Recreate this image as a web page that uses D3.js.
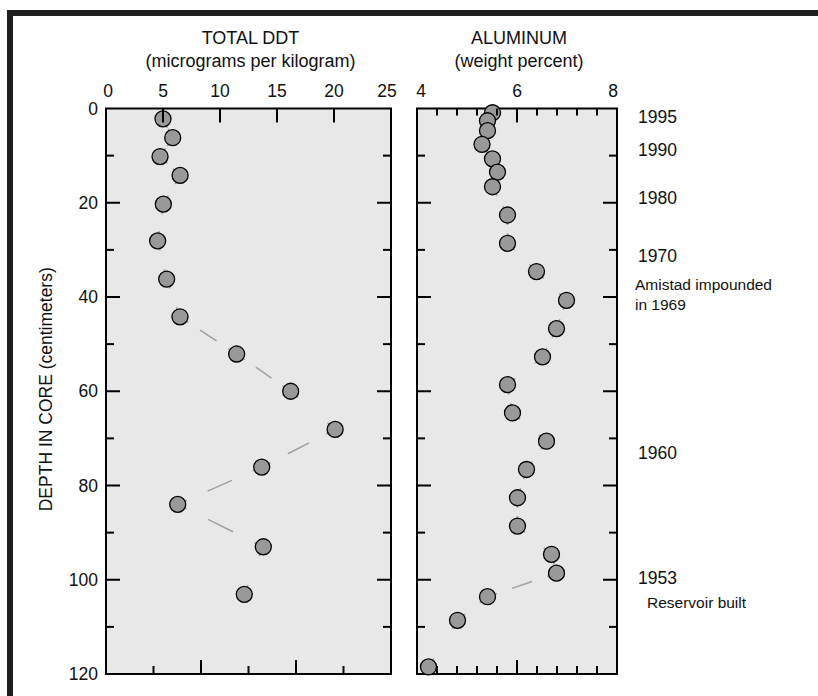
<!DOCTYPE html>
<html>
<head>
<meta charset="utf-8">
<script src="https://cdn.jsdelivr.net/npm/d3@7"></script>
<style>
  html, body { margin: 0; padding: 0; background: #fff; }
  svg { display: block; }
  text { font-family: "Liberation Sans", Arial, sans-serif; fill: #111; }
</style>
</head>
<body>
<svg id="chart" width="818" height="696"></svg>
<script>
// ---- data ----
const ddtDepth = [2.2, 6.2, 10.2, 14.2, 20.3, 28.1, 36.2, 44.2, 52.1, 60.0, 68.1, 76.1, 84.0, 93.0, 103.1];
const ddtValue = [5.0, 5.85, 4.74, 6.5, 5.03, 4.53, 5.32, 6.49, 11.46, 16.2, 20.1, 13.66, 6.29, 13.8, 12.13];

const alDepth = [0.9, 2.6, 4.7, 7.6, 10.7, 13.5, 16.6, 22.6, 28.6, 34.6, 40.7, 46.7, 52.7, 58.6, 64.6, 70.6, 76.6, 82.6, 88.6, 94.6, 98.6, 103.6, 108.6, 118.5];
const alValue = [5.51, 5.41, 5.41, 5.30, 5.51, 5.61, 5.51, 5.81, 5.81, 6.39, 6.99, 6.79, 6.51, 5.81, 5.91, 6.59, 6.19, 6.01, 6.01, 6.69, 6.79, 5.41, 4.81, 4.23];

const depthTicks = [0, 20, 40, 60, 80, 100, 120];
const ddtTicks = [0, 5, 10, 15, 20, 25];
const alTicks = [4, 6, 8];

const yearLabels = ["1995", "1990", "1980", "1970", "1960", "1953"];
const yearDepths = [1.8, 8.8, 19.0, 31.3, 73.1, 99.5];
const noteLabels = ["Amistad impounded", "in 1969", "Reservoir built"];
const noteDepths = [37.3, 41.6, 104.8];

const titles = ["TOTAL DDT", "ALUMINUM"];
const subtitles = ["(micrograms per kilogram)", "(weight percent)"];
const yTitle = "DEPTH IN CORE (centimeters)";

// ---- layout ----
const svg = d3.select("#chart");
const yTop = 108.5, yBot = 674;
const y = d3.scaleLinear().domain([0, 120]).range([yTop, yBot]);
const xD = d3.scaleLinear().domain([0, 25]).range([106, 391]);
const xA = d3.scaleLinear().domain([4, 8]).range([417, 617]);

// outer frame
svg.append("rect").attr("x", 10).attr("y", 13).attr("width", 900).attr("height", 800)
  .attr("fill", "none").attr("stroke", "#1e1e1e").attr("stroke-width", 6);

// dash pattern: short dash at each end (mostly hidden under symbols),
// evenly spaced dashes in between for longer segments
function dashFor(L) {
  const e = 10;
  const n = Math.max(1, Math.round(L / 42));
  if (n === 1) return [e, L - 2 * e, e + 50, 10].map(v => v.toFixed(2)).join(",");
  const p = L / n, d = p * 0.58;
  const arr = [e];
  let pos = e;
  for (let k = 1; k < n; k++) {
    const s = k * p - d / 2;
    arr.push(s - pos, d);
    pos = s + d;
  }
  arr.push(L - e - pos, e + 50);
  return arr.map(v => v.toFixed(2)).join(",");
}

function panel(x, depths, values, topTicks, bottomTicks, title, subtitle) {
  const [x0, x1] = x.range();
  const g = svg.append("g");
  g.append("rect").attr("x", x0).attr("y", yTop).attr("width", x1 - x0).attr("height", yBot - yTop)
    .attr("fill", "#e8e8e8").attr("stroke", "#000").attr("stroke-width", 2);

  const pts = depths.map((d, i) => [x(values[i]), y(d)]);
  for (let i = 0; i < pts.length - 1; i++) {
    const [ax, ay] = pts[i], [bx, by] = pts[i + 1];
    const L = Math.hypot(bx - ax, by - ay);
    g.append("line").attr("x1", ax).attr("y1", ay).attr("x2", bx).attr("y2", by)
      .attr("stroke", "#a0a0a0").attr("stroke-width", 1.5)
      .attr("stroke-dasharray", dashFor(L));
  }
  g.selectAll("circle.pt").data(pts).join("circle").attr("class", "pt")
    .attr("cx", d => d[0]).attr("cy", d => d[1]).attr("r", 8)
    .attr("fill", "#999").attr("stroke", "#000").attr("stroke-width", 1.3);

  // ticks (inward)
  const tk = g.append("g").attr("stroke", "#000").attr("stroke-width", 2);
  d3.range(10, 120, 10).forEach(d => {
    const len = d % 20 === 0 ? 14 : 8;
    tk.append("line").attr("x1", x0).attr("x2", x0 + len).attr("y1", y(d)).attr("y2", y(d));
    tk.append("line").attr("x1", x1).attr("x2", x1 - len).attr("y1", y(d)).attr("y2", y(d));
  });
  topTicks.forEach(t => {
    tk.append("line").attr("x1", x(t.v)).attr("x2", x(t.v)).attr("y1", yTop).attr("y2", yTop + t.len);
  });
  bottomTicks.forEach(t => {
    tk.append("line").attr("x1", t.x).attr("x2", t.x).attr("y1", yBot).attr("y2", yBot - t.len);
  });

  const cx = (x0 + x1) / 2 + 2;
  svg.append("text").attr("x", cx).attr("y", 44).attr("text-anchor", "middle")
    .attr("font-size", 18).text(title);
  svg.append("text").attr("x", cx).attr("y", 67).attr("text-anchor", "middle")
    .attr("font-size", 18).text(subtitle);
}

// DDT panel
const ddtTop = [5, 10, 15, 20].map(v => ({ v, len: 14 }));
const ddtBottom = d3.range(1, 6).map(k => ({ x: xD.range()[0] + k * (xD.range()[1] - xD.range()[0]) / 6, len: k % 2 === 0 ? 14 : 8 }));
panel(xD, ddtDepth, ddtValue, ddtTop, ddtBottom, titles[0], subtitles[0]);

// Aluminum panel
const alMinor = d3.range(1, 10).map(k => 4 + k * 0.4);
const alTop = alMinor.map(v => ({ v, len: Math.abs(v - 6) < 1e-6 ? 14 : 7 }));
const alBottom = alMinor.map(v => ({ x: xA(v), len: Math.abs(v - 6) < 1e-6 ? 14 : 8 }));
panel(xA, alDepth, alValue, alTop, alBottom, titles[1], subtitles[1]);

// top tick labels
ddtTicks.forEach(t => {
  svg.append("text").attr("x", xD(t) + (t === 0 ? 2 : (t === 25 ? -4 : 0))).attr("y", 97)
    .attr("text-anchor", "middle").attr("font-size", 17.5).text(t);
});
alTicks.forEach(t => {
  svg.append("text").attr("x", xA(t) + (t === 4 ? 4 : (t === 8 ? -4 : 0))).attr("y", 97)
    .attr("text-anchor", "middle").attr("font-size", 17.5).text(t);
});

// depth labels
depthTicks.forEach(d => {
  svg.append("text").attr("x", 98).attr("y", y(d)).attr("dy", "0.35em")
    .attr("text-anchor", "end").attr("font-size", 17.5).text(d);
});

// y title
svg.append("text").attr("transform", `translate(52,${y(60) - 2}) rotate(-90)`)
  .attr("text-anchor", "middle").attr("font-size", 17.5).text(yTitle);

// year labels
yearLabels.forEach((t, i) => {
  svg.append("text").attr("x", 638).attr("y", y(yearDepths[i])).attr("dy", "0.35em")
    .attr("font-size", 17.5).text(t);
});
noteLabels.forEach((t, i) => {
  svg.append("text").attr("x", i < 2 ? 635 : 647).attr("y", y(noteDepths[i])).attr("dy", "0.35em")
    .attr("font-size", 15.5).text(t);
});
</script>
</body>
</html>
